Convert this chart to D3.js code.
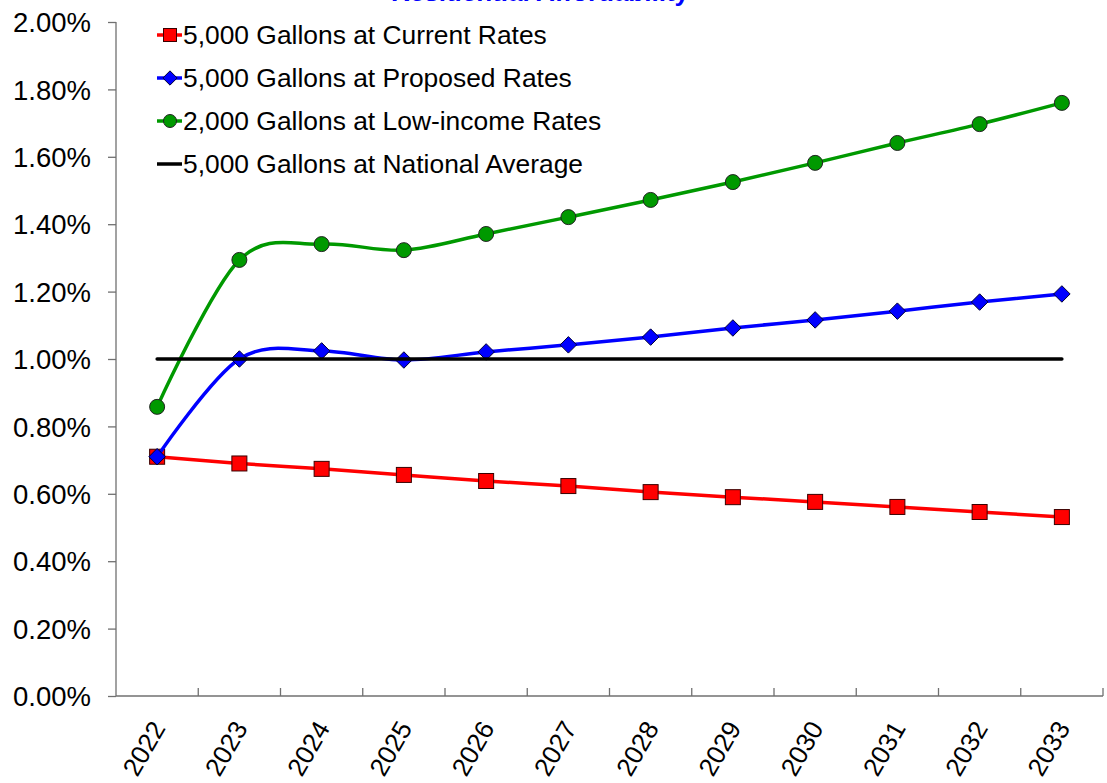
<!DOCTYPE html>
<html>
<head>
<meta charset="utf-8">
<script src="https://cdn.jsdelivr.net/npm/d3@7"></script>
<style>
  html, body { margin: 0; padding: 0; background: #fff; }
  svg { display: block; font-family: "Liberation Sans", Arial, sans-serif; }
</style>
</head>
<body>
<svg id="chart" width="1107" height="783"></svg>
<script>
// Share of household income spent on water, by year
const years = ["2022","2023","2024","2025","2026","2027","2028","2029","2030","2031","2032","2033"];
const currentRates  = [0.71, 0.69, 0.674, 0.656, 0.638, 0.623, 0.605, 0.590, 0.576, 0.561, 0.546, 0.531];
const proposedRates = [0.71, 1.00, 1.024, 0.997, 1.021, 1.042, 1.065, 1.092, 1.116, 1.142, 1.169, 1.193];
const lowIncomeRates = [0.858, 1.294, 1.341, 1.323, 1.371, 1.421, 1.472, 1.525, 1.582, 1.641, 1.697, 1.760];
const nationalAverage = [1.00, 1.00, 1.00, 1.00, 1.00, 1.00, 1.00, 1.00, 1.00, 1.00, 1.00, 1.00];
const yTicks = [0, 0.2, 0.4, 0.6, 0.8, 1.0, 1.2, 1.4, 1.6, 1.8, 2.0];
const titleText = "Residential Affordability";

const series = [
  { name: "5,000 Gallons at Current Rates",     values: currentRates,   color: "#ff0000", marker: "square" },
  { name: "5,000 Gallons at Proposed Rates",    values: proposedRates,  color: "#0000ff", marker: "diamond" },
  { name: "2,000 Gallons at Low-income Rates",  values: lowIncomeRates, color: "#009900", marker: "circle" },
  { name: "5,000 Gallons at National Average",  values: nationalAverage, color: "#000000", marker: null }
];

const svg = d3.select("#chart");
const plot = { left: 116, right: 1103, top: 22, bottom: 696 };

const x = d3.scaleBand().domain(years).range([plot.left, plot.right]);
const y = d3.scaleLinear().domain([0, 2]).range([plot.bottom, plot.top]);
const cx = d => x(d) + x.bandwidth() / 2;

const axisColor = "#707070";

// title (sits mostly above the visible area)
svg.append("text")
  .attr("x", 540).attr("y", 0.5)
  .attr("text-anchor", "middle")
  .attr("font-size", 26).attr("font-weight", "bold")
  .attr("fill", "#0000ff")
  .text(titleText);

// y axis
const yAxis = svg.append("g").attr("transform", `translate(${plot.left},0)`)
  .call(d3.axisLeft(y).tickValues(yTicks).tickSize(8).tickFormat(d => d.toFixed(2) + "%"));
yAxis.select(".domain").attr("stroke", axisColor).attr("stroke-width", 1.3)
  .attr("d", `M0,${plot.top}V${plot.bottom}`);
yAxis.selectAll(".tick line").attr("stroke", axisColor).attr("stroke-width", 1.3);
yAxis.selectAll(".tick text")
  .attr("x", -25).attr("dy", "0.35em")
  .attr("font-size", 27.5).attr("fill", "#000")
  .attr("font-family", "Liberation Sans, Arial, sans-serif");

// x axis: ticks between categories, pointing into the plot
const xAxisG = svg.append("g");
xAxisG.append("line")
  .attr("x1", plot.left).attr("x2", plot.right)
  .attr("y1", plot.bottom).attr("y2", plot.bottom)
  .attr("stroke", axisColor).attr("stroke-width", 1.3);
const boundaries = years.map(d => x(d)).concat([plot.right]);
xAxisG.selectAll("line.xt").data(boundaries.slice(1)).enter().append("line")
  .attr("class", "xt")
  .attr("x1", d => d).attr("x2", d => d)
  .attr("y1", plot.bottom).attr("y2", plot.bottom - 8)
  .attr("stroke", axisColor).attr("stroke-width", 1.3);
xAxisG.selectAll("text").data(years).enter().append("text")
  .attr("transform", d => `translate(${cx(d) + 9},728) rotate(-60)`)
  .attr("text-anchor", "end")
  .attr("font-size", 26).attr("fill", "#000")
  .text(d => d);

// series lines and markers
const lineGen = d3.line()
  .x((v, i) => cx(years[i]))
  .y(v => y(v))
  .curve(d3.curveCatmullRom.alpha(0));

function drawMarker(g, type, color, px, py, s) {
  if (type === "square") {
    g.append("rect").attr("x", px - s / 2).attr("y", py - s / 2)
      .attr("width", s).attr("height", s)
      .attr("fill", color).attr("stroke", "#3a0000").attr("stroke-width", 1);
  } else if (type === "diamond") {
    const h = s * 0.55;
    g.append("path").attr("d", `M${px},${py - h}L${px + h},${py}L${px},${py + h}L${px - h},${py}Z`)
      .attr("fill", color).attr("stroke", "#000033").attr("stroke-width", 1);
  } else if (type === "circle") {
    g.append("circle").attr("cx", px).attr("cy", py).attr("r", s / 2)
      .attr("fill", color).attr("stroke", "#222").attr("stroke-width", 1);
  }
}

series.forEach(s => {
  const g = svg.append("g");
  g.append("path")
    .datum(s.values)
    .attr("d", s.marker ? lineGen(s.values) : d3.line().x((v, i) => cx(years[i])).y(v => y(v))(s.values))
    .attr("fill", "none")
    .attr("stroke", s.color)
    .attr("stroke-width", 3.5)
    .attr("stroke-linecap", s.marker ? "butt" : "round");
  if (s.marker) {
    s.values.forEach((v, i) => drawMarker(g, s.marker, s.color, cx(years[i]), y(v), 15));
  }
});

// legend
const legend = svg.append("g");
series.forEach((s, i) => {
  const by = 44 + i * 43;
  const my = by - 9;
  legend.append("line")
    .attr("x1", 157).attr("x2", 182).attr("y1", my).attr("y2", my)
    .attr("stroke", s.color).attr("stroke-width", 3.5);
  if (s.marker) drawMarker(legend, s.marker, s.color, 170, my, 13);
  legend.append("text")
    .attr("x", 183).attr("y", by)
    .attr("font-size", 26.4).attr("fill", "#000")
    .text(s.name);
});
</script>
</body>
</html>
